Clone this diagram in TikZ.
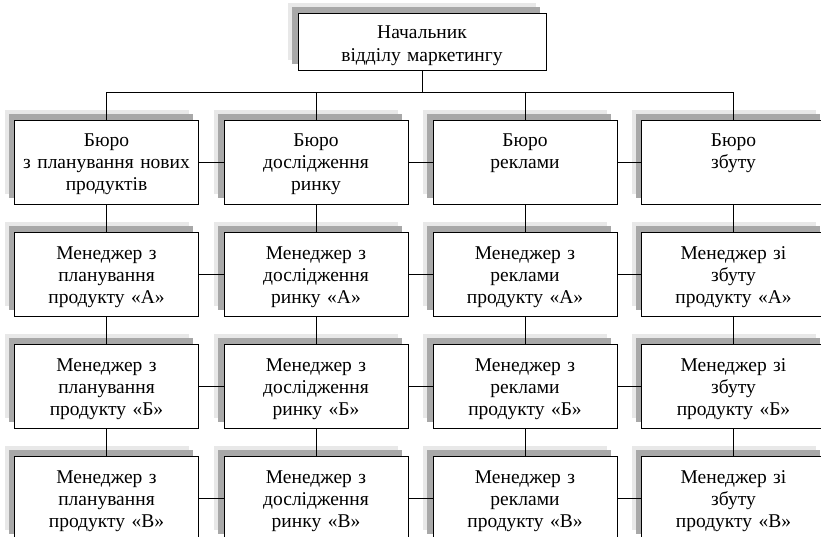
\documentclass[tikz,border=0pt]{standalone}
\usepackage{fontspec}
\setmainfont{Liberation Serif}
\usetikzlibrary{shadows}
\definecolor{shadelight}{gray}{0.91}
\definecolor{shadedark}{gray}{0.66}

\begin{document}
\begin{tikzpicture}[x=1pt,y=-1pt,
        unit/.style={draw,fill=white,line width=0.9pt,minimum width=184pt,minimum height=84pt,
            text width=182pt,inner sep=1pt,align=center,font=\fontsize{19.5}{22}\selectfont,
            text height=26pt,text depth=56pt,
            general shadow={fill=shadelight,shadow xshift=-10pt,shadow yshift=10pt},
            general shadow={fill=shadedark,shadow xshift=-6pt,shadow yshift=6pt}},
        link/.style={line width=0.9pt}]

        \useasboundingbox (0,0) rectangle (821,537);
        \clip (0,0) rectangle (821,537);

        \node[unit,minimum width=248pt,text width=246pt,minimum height=57pt,
            font=\fontsize{19.5}{23}\selectfont,
            text height=25pt,text depth=30pt] (H) at (422,41.5) {Начальник\\відділу маркетингу};

        \coordinate (bus) at (0,92);

        % бюро
        \node[unit] (B1) at (106.5,162) {Бюро\\з планування нових\\продуктів};
        \node[unit] (B2) at (316,162) {Бюро\\дослідження\\ринку};
        \node[unit] (B3) at (525,162) {Бюро\\реклами};
        \node[unit] (B4) at (733.5,162) {Бюро\\збуту};

        % продукт А
        \node[unit] (MA1) at (106.5,274) {Менеджер з\\планування\\продукту «А»};
        \node[unit] (MA2) at (316,274) {Менеджер з\\дослідження\\ринку «А»};
        \node[unit] (MA3) at (525,274) {Менеджер з\\реклами\\продукту «А»};
        \node[unit] (MA4) at (733.5,274) {Менеджер зі\\збуту\\продукту «А»};

        % продукт Б
        \node[unit] (MB1) at (106.5,386) {Менеджер з\\планування\\продукту «Б»};
        \node[unit] (MB2) at (316,386) {Менеджер з\\дослідження\\ринку «Б»};
        \node[unit] (MB3) at (525,386) {Менеджер з\\реклами\\продукту «Б»};
        \node[unit] (MB4) at (733.5,386) {Менеджер зі\\збуту\\продукту «Б»};

        % продукт В
        \node[unit] (MC1) at (106.5,498) {Менеджер з\\планування\\продукту «В»};
        \node[unit] (MC2) at (316,498) {Менеджер з\\дослідження\\ринку «В»};
        \node[unit] (MC3) at (525,498) {Менеджер з\\реклами\\продукту «В»};
        \node[unit] (MC4) at (733.5,498) {Менеджер зі\\збуту\\продукту «В»};

        \draw[link] (H.south) -- (H.south |- bus);
        \draw[link] (B1.north) |- (B4.north |- bus) -- (B4.north);
        \foreach \c in {2,3}
            \draw[link] (B\c.north) -- (B\c.north |- bus);

        \foreach \c in {1,...,4} {
            \draw[link] (B\c.south) -- (MA\c.north);
            \draw[link] (MA\c.south) -- (MB\c.north);
            \draw[link] (MB\c.south) -- (MC\c.north);
        }

        \foreach \r in {B,MA,MB,MC}
            \foreach \a/\b in {1/2,2/3,3/4}
                \draw[link] (\r\a.east) -- (\r\b.west);
    \end{tikzpicture}
\end{document}
